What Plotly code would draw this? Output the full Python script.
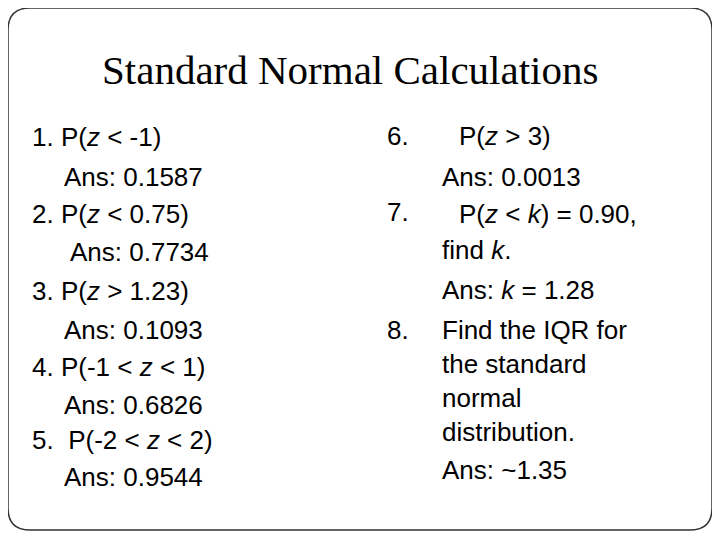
import plotly.graph_objects as go

title = "Standard Normal Calculations"
left_lines = ["1. P(<i>z</i> < -1)", "Ans: 0.1587", "2. P(<i>z</i> < 0.75)", "Ans: 0.7734",
              "3. P(<i>z</i> > 1.23)", "Ans: 0.1093", "4. P(-1 < <i>z</i> < 1)", "Ans: 0.6826",
              "5.  P(-2 < <i>z</i> < 2)", "Ans: 0.9544"]
left_x = [30, 62, 30, 68, 30, 62, 30, 62, 30, 62]
left_y = [137, 177, 214, 252, 291, 330, 367, 405, 440, 477]
num_labels = ["6.", "7.", "8."]
num_y = [136, 212, 330]
right_lines = ["P(<i>z</i> > 3)", "Ans: 0.0013", "P(<i>z</i> < <i>k</i>) = 0.90,", "find <i>k</i>.",
               "Ans: <i>k</i> = 1.28", "Find the IQR for", "the standard", "normal",
               "distribution.", "Ans: ~1.35"]
right_x = [457, 440, 457, 440, 440, 440, 440, 440, 440, 440]
right_y = [136, 177, 214, 250, 290, 330, 364, 398, 432, 470]

serif = "Liberation Serif, Times New Roman, serif"
sans = "Liberation Sans, Arial, sans-serif"
fig = go.Figure()
ann = [dict(x=350, y=70, text=title, showarrow=False, xanchor="center", yanchor="middle",
            font=dict(family=serif, size=41, color="black"))]
for t, x, y in zip(left_lines, left_x, left_y):
    ann.append(dict(x=x, y=y, text=t, showarrow=False, xanchor="left",
                    yanchor="middle", font=dict(family=sans, size=26, color="black")))
for t, y in zip(num_labels, num_y):
    ann.append(dict(x=385, y=y, text=t, showarrow=False, xanchor="left", yanchor="middle",
                    font=dict(family=sans, size=26, color="black")))
for t, x, y in zip(right_lines, right_x, right_y):
    ann.append(dict(x=x, y=y, text=t, showarrow=False, xanchor="left", yanchor="middle",
                    font=dict(family=sans, size=26, color="black")))

r = 22
x0, y0, x1, y1 = 8, 8, 712, 530
path = (f"M {x0+r},{y0} L {x1-r},{y0} Q {x1},{y0} {x1},{y0+r} L {x1},{y1-r} Q {x1},{y1} {x1-r},{y1} "
        f"L {x0+r},{y1} Q {x0},{y1} {x0},{y1-r} L {x0},{y0+r} Q {x0},{y0} {x0+r},{y0} Z")
fig.update_layout(width=720, height=540, margin=dict(l=0, r=0, t=0, b=0),
                  paper_bgcolor="white", plot_bgcolor="white", annotations=ann,
                  shapes=[dict(type="path", path=path, line=dict(color="#333", width=1.5))],
                  xaxis=dict(range=[8, 728], visible=False, fixedrange=True),
                  yaxis=dict(range=[548, 8], visible=False, fixedrange=True),
                  showlegend=False)
fig.write_html("out.html")
